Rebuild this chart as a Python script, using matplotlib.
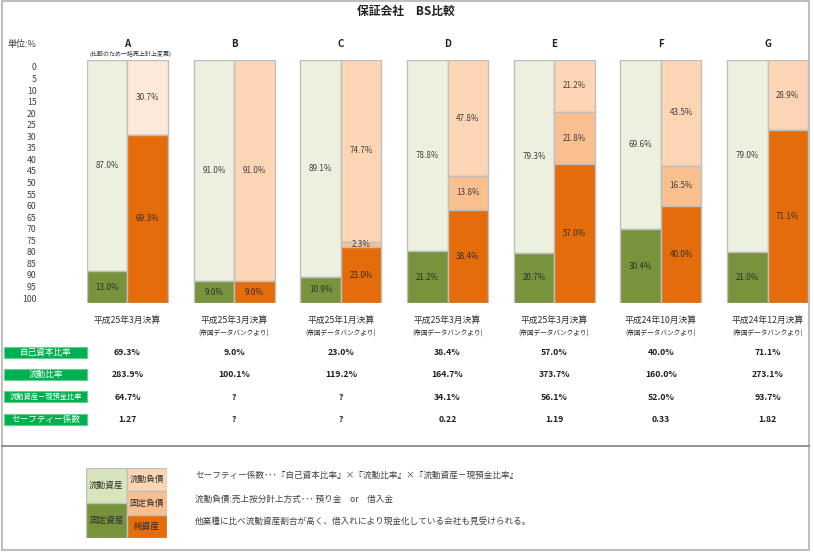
import matplotlib.pyplot as plt
from matplotlib.patches import Rectangle

plt.rcParams['font.family'] = ['Noto Sans CJK JP', 'DejaVu Sans']

W, H = 814, 554

companies = ['A', 'B', 'C', 'D', 'E', 'F', 'G']
periods = ['平成25年3月決算', '平成25年3月決算', '平成25年1月決算', '平成25年3月決算',
           '平成25年3月決算', '平成24年10月決算', '平成24年12月決算']
sources = [''] + ['(帝国データバンクより)'] * 6

# BS ratios (%), top to bottom in each column
current_assets = [87.0, 91.0, 89.1, 78.8, 79.3, 69.6, 79.0]
fixed_assets = [13.0, 9.0, 10.9, 21.2, 20.7, 30.4, 21.0]
current_liab = [30.7, 91.0, 74.7, 47.8, 21.2, 43.5, 28.9]
fixed_liab = [0.0, 0.0, 2.3, 13.8, 21.8, 16.5, 0.0]
net_assets = [69.3, 9.0, 23.0, 38.4, 57.0, 40.0, 71.1]

row_names = ['自己資本比率', '流動比率', '流動資産－現預金比率', 'セーフティー係数']
equity_ratio = ['69.3%', '9.0%', '23.0%', '38.4%', '57.0%', '40.0%', '71.1%']
current_ratio = ['283.9%', '100.1%', '119.2%', '164.7%', '373.7%', '160.0%', '273.1%']
cash_ratio = ['64.7%', '?', '?', '34.1%', '56.1%', '52.0%', '93.7%']
safety = ['1.27', '?', '?', '0.22', '1.19', '0.33', '1.82']

legend_left = ['流動資産', '固定資産']
legend_left_size = [50, 50]
legend_right = ['流動負債', '固定負債', '純資産']
legend_right_size = [33.3, 33.3, 33.4]

notes = ['セーフティー係数･･･『自己資本比率』×『流動比率』×『流動資産－現預金比率』',
         '流動負債:売上按分計上方式･･･ 預り金　or　借入金',
         '他業種に比べ流動資産割合が高く、借入れにより現金化している会社も見受けられる。']

C_CA = '#EBF1DE'
C_FA = '#77933C'
C_CL = ['#FDE9D9'] + ['#FCD5B4'] * 6
C_FL = '#FABF8F'
C_NA = '#E46C0A'
EDGE = '#BFBFBF'
TXT = '#404040'


def box(l, t, r, b):
    return [l / W, 1 - b / H, (r - l) / W, (b - t) / H]


fig = plt.figure(figsize=(W / 100, H / 100), dpi=100)
fig.patch.set_facecolor('white')

# outer frame and divider
fig.add_artist(Rectangle((2 / W, 1 - 550 / H), 807 / W, 549 / H, transform=fig.transFigure,
                         fill=False, edgecolor=EDGE, lw=1.5))
fig.add_artist(plt.Line2D([2 / W, 809 / W], [1 - 446 / H] * 2, transform=fig.transFigure,
                          color='#808080', lw=1.2))

fig.text(406 / W, 1 - 11 / H, '保証会社　BS比較', ha='center', va='center',
         fontsize=8.5, fontweight='bold', color='#202020')
fig.text(7 / W, 1 - 44 / H, '単位:%', ha='left', va='center', fontsize=6.5, color=TXT)

# bars
ax = fig.add_axes(box(87, 60, 808, 303))
w = 0.379
x = list(range(len(companies)))
xa = [i - w / 2 for i in x]
xl = [i + w / 2 for i in x]
kw = dict(width=w, edgecolor=EDGE, linewidth=1)
ax.bar(xa, current_assets, color=C_CA, **kw)
ax.bar(xa, fixed_assets, bottom=current_assets, color=C_FA, **kw)
ax.bar(xl, current_liab, color=C_CL, **kw)
b2 = [a + b for a, b in zip(current_liab, fixed_liab)]
ax.bar(xl, fixed_liab, bottom=current_liab, color=C_FL, **kw)
ax.bar(xl, net_assets, bottom=b2, color=C_NA, **kw)

for i in x:
    ax.text(xa[i], current_assets[i] / 2, f'{current_assets[i]:.1f}%', ha='center', va='center',
            fontsize=5.8, color=TXT)
    ax.text(xa[i], current_assets[i] + fixed_assets[i] / 2, f'{fixed_assets[i]:.1f}%',
            ha='center', va='center', fontsize=5.8, color='#303030')
    ax.text(xl[i], current_liab[i] / 2, f'{current_liab[i]:.1f}%', ha='center', va='center',
            fontsize=5.8, color=TXT)
    if fixed_liab[i] > 0:
        ax.text(xl[i], current_liab[i] + fixed_liab[i] / 2, f'{fixed_liab[i]:.1f}%',
                ha='center', va='center', fontsize=5.8, color=TXT)
    ax.text(xl[i], b2[i] + net_assets[i] / 2, f'{net_assets[i]:.1f}%', ha='center', va='center',
            fontsize=5.8, color='#303030')

    ax.text(i, 1.066, companies[i], transform=ax.get_xaxis_transform(), ha='center',
            va='center', fontsize=7, fontweight='bold', color='#202020')
    ax.text(i, -0.07, periods[i], transform=ax.get_xaxis_transform(), ha='center',
            va='center', fontsize=6.3, color='#303030')
    if sources[i]:
        ax.text(i, -0.122, sources[i], transform=ax.get_xaxis_transform(), ha='center',
                va='center', fontsize=4.8, color='#303030')
ax.text(0.03, 1.026, '(比較のため一括売上計上変更)', transform=ax.get_xaxis_transform(),
        ha='center', va='center', fontsize=4.3, color='#303030')

ax.set_xlim(-w, len(companies) - 1 + w)
ax.set_ylim(100, 0)
ax.axis('off')

# scale labels on the left
axs = fig.add_axes(box(38, 67, 39, 298))
axs.set_ylim(100, 0)
axs.set_yticks(range(0, 101, 5))
axs.set_xticks([])
axs.tick_params(axis='y', length=0, pad=1, labelsize=6.3, labelcolor=TXT)
for s in axs.spines.values():
    s.set_visible(False)

# ratio table
axt = fig.add_axes(box(87, 341.6, 808, 430.4))
axt.set_xlim(-w, len(companies) - 1 + w)
axt.set_ylim(3.5, -0.5)
axt.axis('off')
for r, vals in enumerate([equity_ratio, current_ratio, cash_ratio, safety]):
    for i, v in enumerate(vals):
        axt.text(i, r, v, ha='center', va='center', fontsize=6.3, fontweight='bold',
                 color='#202020')
row_y = [352.7, 374.2, 396.7, 419.3]
for name, yy in zip(row_names, row_y):
    fig.add_artist(Rectangle((4 / W, 1 - (yy + 5.5) / H), 83 / W, 11 / H,
                             transform=fig.transFigure, facecolor='#00B050',
                             edgecolor='#66D08F', lw=0.8))
    fig.text(45.5 / W, 1 - yy / H, name, ha='center', va='center', color='white',
             fontsize=6.2 if len(name) < 9 else 5.2)

# legend block
axl = fig.add_axes(box(86, 468, 167, 538))
axl.bar([0], [legend_left_size[0]], width=1, color='#D8E4BC', edgecolor=EDGE, lw=1)
axl.bar([0], [legend_left_size[1]], bottom=legend_left_size[0], width=1, color=C_FA,
        edgecolor=EDGE, lw=1)
bot = 0
for name, sz, c in zip(legend_right, legend_right_size, ['#FCD5B4', C_FL, C_NA]):
    axl.bar([1], [sz], bottom=bot, width=1, color=c, edgecolor=EDGE, lw=1)
    axl.text(1, bot + sz / 2, name, ha='center', va='center', fontsize=6.2, color='#303030')
    bot += sz
bot = 0
for name, sz in zip(legend_left, legend_left_size):
    axl.text(0, bot + sz / 2, name, ha='center', va='center', fontsize=6.2, color='#303030')
    bot += sz
axl.set_xlim(-0.5, 1.5)
axl.set_ylim(100, 0)
axl.axis('off')

for t, yy in zip(notes, [475, 499, 521]):
    fig.text(195 / W, 1 - yy / H, t, ha='left', va='center', fontsize=6.2, color=TXT)

fig.savefig('out.png', dpi=100)
